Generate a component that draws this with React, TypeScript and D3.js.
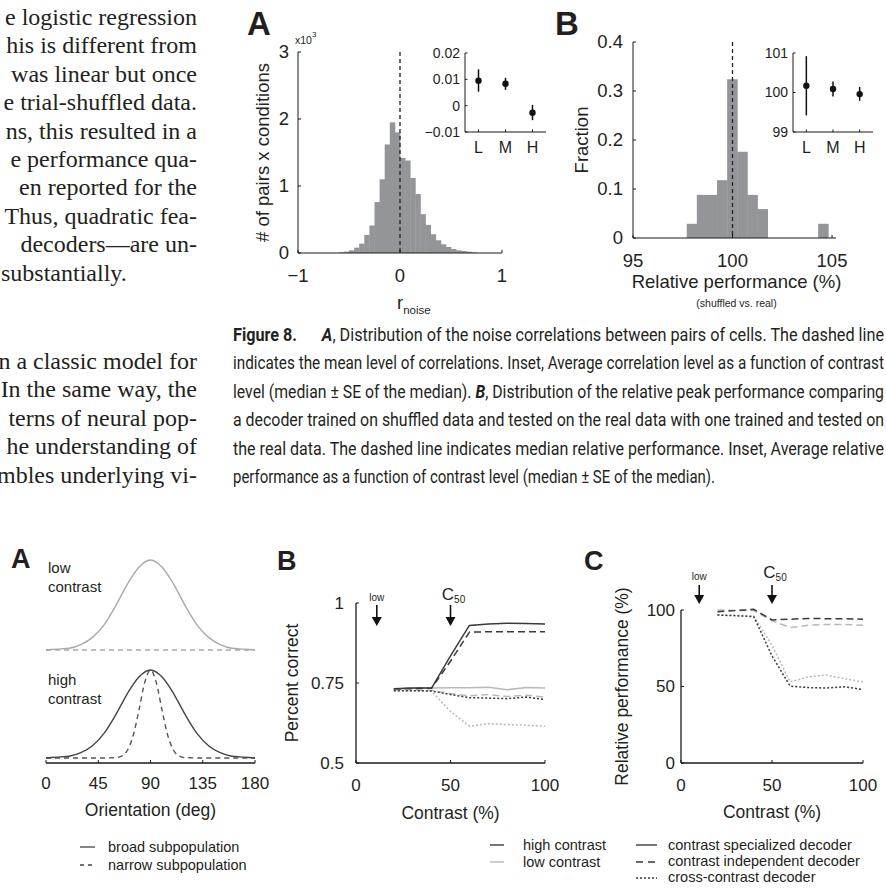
import React from 'react';
import * as d3 from 'd3';

const SANS = "'Liberation Sans', Arial, Helvetica, sans-serif";
const SERIF = "'Liberation Serif', 'Times New Roman', serif";
const NARROW = "'Liberation Sans Narrow', 'Arial Narrow', Roboto, sans-serif";
const INK = '#231f20';
const AXIS = '#1a1a1a';
const BAR = '#939598';
const DARK = '#3a3a3a';
const LIGHT = '#b9b9b9';

// ---------------- body text ----------------
const bodyTop = [
  'e logistic regression',
  'his is different from',
  'was linear but once',
  'e trial-shuffled data.',
  'ns, this resulted in a',
  'e performance qua-',
  'en reported for the',
  'Thus, quadratic fea-',
  'decoders\u2014are un-',
];
const bodyTopLast = 'substantially.';
const bodyBottom = [
  'n a classic model for',
  'In the same way, the',
  'terns of neural pop-',
  'he understanding of',
  'mbles underlying vi-',
];

// ---------------- caption ----------------
type Seg = { t: string; b?: boolean; i?: boolean };
const captionLines: Seg[][] = [
  [{ t: 'Figure 8.', b: true }, { t: '\u2003\u2002' }, { t: 'A', b: true, i: true }, { t: ', Distribution of the noise correlations between pairs of cells. The dashed line' }],
  [{ t: 'indicates the mean level of correlations. Inset, Average correlation level as a function of contrast' }],
  [{ t: 'level (median \u00B1 SE of the median). ' }, { t: 'B', b: true, i: true }, { t: ', Distribution of the relative peak performance comparing' }],
  [{ t: 'a decoder trained on shuffled data and tested on the real data with one trained and tested on' }],
  [{ t: 'the real data. The dashed line indicates median relative performance. Inset, Average relative' }],
  [{ t: 'performance as a function of contrast level (median \u00B1 SE of the median).' }],
];
const captionWidths = [651, 651, 651, 651, 651, 482];

// ---------------- Figure 8A data ----------------
const histAStart = -0.6;
const histAWidth = 0.05;
const histACounts = [10, 20, 40, 80, 140, 270, 410, 760, 1100, 1620, 1950, 1800,
  1420, 1380, 1120, 880, 580, 420, 280, 190, 130, 90, 60, 40, 30, 20, 10];
const meanCorr = 0;
const histAYTicks = [0, 1000, 2000, 3000];
const histAYLabels = ['0', '1', '2', '3'];
const histAXTicks = [-1, 0, 1];
const histAXLabels = ['\u22121', '0', '1'];

const insetCats = ['L', 'M', 'H'];
const insetAMed = [0.0095, 0.0083, -0.0027];
const insetALo = [0.0053, 0.006, -0.0055];
const insetAHi = [0.0138, 0.0106, 0.0003];
const insetAYTicks = [-0.01, 0, 0.01, 0.02];
const insetAYLabels = ['\u22120.01', '0', '0.01', '0.02'];

// ---------------- Figure 8B data ----------------
const histBStart = 97.7;
const histBWidth = 0.508;
const histBFrac = [0.029, 0.088, 0.088, 0.118, 0.324, 0.176, 0.088, 0.059, 0, 0, 0, 0, 0, 0.029];
const medianPerf = 100;
const histBYTicks = [0, 0.1, 0.2, 0.3, 0.4];
const histBYLabels = ['0', '0.1', '0.2', '0.3', '0.4'];
const histBXTicks = [95, 100, 105];

const insetBMed = [100.17, 100.09, 99.96];
const insetBLo = [99.42, 99.9, 99.79];
const insetBHi = [100.92, 100.28, 100.14];
const insetBYTicks = [99, 100, 101];

// ---------------- Figure 9A data ----------------
const orientDeg = [0, 10, 20, 30, 40, 50, 60, 70, 80, 90, 100, 110, 120, 130, 140, 150, 160, 170, 180];
const broadResp = [0, 0.01, 0.02, 0.06, 0.14, 0.28, 0.49, 0.73, 0.92, 1, 0.92, 0.73, 0.49, 0.28, 0.14, 0.06, 0.02, 0.01, 0];
const narrowDeg = [0, 45, 60, 65, 70, 75, 80, 85, 90, 95, 100, 105, 110, 115, 120, 135, 180];
const narrowHighResp = [0, 0, 0.004, 0.021, 0.085, 0.25, 0.54, 0.857, 1, 0.857, 0.54, 0.25, 0.085, 0.021, 0.004, 0, 0];
const narrowLowDeg = [0, 180];
const narrowLowResp = [0, 0];
const orientTicks = [0, 45, 90, 135, 180];

// ---------------- Figure 9B / 9C data ----------------
const contrastLevels = [20, 30, 40, 50, 60, 70, 80, 90, 100];
const bHighSpec = [0.732, 0.734, 0.734, 0.835, 0.930, 0.934, 0.937, 0.936, 0.934];
const bHighIndep = [0.732, 0.733, 0.734, 0.818, 0.909, 0.910, 0.910, 0.910, 0.910];
const bHighCross = [0.726, 0.726, 0.725, 0.714, 0.704, 0.703, 0.701, 0.706, 0.698];
const bLowSpec = [0.732, 0.733, 0.734, 0.735, 0.735, 0.737, 0.729, 0.736, 0.734];
const bLowIndep = [0.729, 0.729, 0.727, 0.717, 0.710, 0.714, 0.708, 0.712, 0.706];
const bLowCross = [0.726, 0.726, 0.724, 0.661, 0.615, 0.623, 0.620, 0.618, 0.615];
const bYTicks = [0.5, 0.75, 1];
const bYLabels = ['0.5', '0.75', '1'];
const contrastTicks = [0, 50, 100];

const cHighIndep = [98.9, 99.6, 100.4, 93.5, 94.0, 94.5, 94.3, 94.3, 94.0];
const cLowIndep = [100, 99.6, 99.6, 93.0, 88.5, 90.0, 90.6, 90.6, 90.0];
const cHighCross = [96.7, 96.3, 95.6, 70.0, 50.2, 49.3, 49.0, 49.8, 48.0];
const cLowCross = [96.7, 96.5, 96.0, 77.0, 53.0, 56.3, 57.5, 55.0, 53.0];
const cYTicks = [0, 50, 100];

const bArrowContrast = [11, 50];
const cArrowContrast = [10, 50];

// ---------------- helpers ----------------
function Arrow({ x, y0, y1 }: { x: number; y0: number; y1: number }) {
  const head = 9;
  return (
    <g>
      <line x1={x} x2={x} y1={y0} y2={y1 - head + 1} stroke="#111" strokeWidth={1.6} />
      <path d={`M${x - 5},${y1 - head} L${x + 5},${y1 - head} L${x},${y1} Z`} fill="#111" />
    </g>
  );
}

function C50({ x, y }: { x: number; y: number }) {
  return (
    <text x={x} y={y} fontSize={17} textAnchor="middle" fill={INK}>
      C<tspan fontSize={10} dy={3}>50</tspan>
    </text>
  );
}

function Inset({ xs, ys, med, lo, hi, yTicks, yLabels }: any) {
  const [x0, x1] = xs.range();
  const [yb, yt] = ys.range();
  return (
    <g>
      <line x1={x0} x2={x0} y1={yb} y2={yt} stroke={AXIS} strokeWidth={1} />
      <line x1={x0} x2={x1} y1={yb} y2={yb} stroke={AXIS} strokeWidth={1} />
      {yTicks.map((t: number, i: number) => (
        <g key={i}>
          <line x1={x0} x2={x0 + 2.5} y1={ys(t)} y2={ys(t)} stroke={AXIS} />
          <text x={x0 - 5} y={ys(t)} dy="0.35em" textAnchor="end" fontSize={14}>{yLabels[i]}</text>
        </g>
      ))}
      {insetCats.map((c, i) => (
        <g key={c}>
          <line x1={xs(i + 1)} x2={xs(i + 1)} y1={yb} y2={yb - 2.5} stroke={AXIS} />
          <text x={xs(i + 1)} y={yb + 21} textAnchor="middle" fontSize={16}>{c}</text>
          <line x1={xs(i + 1)} x2={xs(i + 1)} y1={ys(lo[i])} y2={ys(hi[i])} stroke="#111" strokeWidth={1.5} />
          <circle cx={xs(i + 1)} cy={ys(med[i])} r={3.2} fill="#111" />
        </g>
      ))}
    </g>
  );
}

// ---------------- panels ----------------
function BodyText() {
  const step = 28.4;
  return (
    <g fontFamily={SERIF} fontSize={24} fill={INK}>
      {bodyTop.map((t, i) => (
        <text key={i} x={197} y={25 + i * step} textAnchor="end">{t}</text>
      ))}
      <text x={1} y={25 + bodyTop.length * step}>{bodyTopLast}</text>
      {bodyBottom.map((t, i) => (
        <text key={'b' + i} x={197} y={369 + i * step} textAnchor="end">{t}</text>
      ))}
    </g>
  );
}

function Caption() {
  return (
    <g fontFamily={NARROW} fontSize={18} fill={INK}>
      {captionLines.map((segs, li) => (
        <text key={li} x={233} y={341 + li * 28.4} textLength={captionWidths[li]} lengthAdjust="spacingAndGlyphs" xmlSpace="preserve">
          {segs.map((s, si) => (
            <tspan key={si} fontWeight={s.b ? 'bold' : 'normal'} fontStyle={s.i ? 'italic' : 'normal'}>{s.t}</tspan>
          ))}
        </text>
      ))}
    </g>
  );
}

function Fig8A() {
  const x = d3.scaleLinear().domain([-1, 1]).range([298, 502]);
  const y = d3.scaleLinear().domain([0, 3000]).range([253, 52]);
  const xi = d3.scaleLinear().domain([0.5, 3.5]).range([465, 546]);
  const yi = d3.scaleLinear().domain([-0.01, 0.02]).range([132, 53]);
  return (
    <g fontFamily={SANS} fill={INK}>
      <text x={247} y={35} fontSize={33} fontWeight="bold">A</text>
      {histACounts.map((c, i) => {
        const b0 = histAStart + i * histAWidth;
        return <rect key={i} x={x(b0)} y={y(c)} width={x(b0 + histAWidth) - x(b0) + 0.4} height={y(0) - y(c)} fill={BAR} />;
      })}
      <line x1={x(meanCorr)} x2={x(meanCorr)} y1={y(3000)} y2={y(0)} stroke="#222" strokeWidth={1.3} strokeDasharray="4,3" />
      <line x1={x(-1)} x2={x(-1)} y1={y(0)} y2={y(3000)} stroke={AXIS} />
      <line x1={x(-1)} x2={x(1)} y1={y(0)} y2={y(0)} stroke={AXIS} />
      {histAYTicks.map((t, i) => (
        <g key={i}>
          <line x1={x(-1)} x2={x(-1) + 3} y1={y(t)} y2={y(t)} stroke={AXIS} />
          <text x={x(-1) - 9} y={y(t)} dy="0.35em" textAnchor="end" fontSize={18.5}>{histAYLabels[i]}</text>
        </g>
      ))}
      {histAXTicks.map((t, i) => (
        <g key={i}>
          <line x1={x(t)} x2={x(t)} y1={y(0)} y2={y(0) - 3} stroke={AXIS} />
          <text x={x(t)} y={y(0) + 29} textAnchor="middle" fontSize={18.5}>{histAXLabels[i]}</text>
        </g>
      ))}
      <text x={295} y={44} fontSize={10.5}>x10<tspan fontSize={8} dy={-7}>3</tspan></text>
      <text transform={`translate(${263},${(y(0) + y(3000)) / 2}) rotate(-90)`} textAnchor="middle" dy="0.35em" fontSize={18.5}># of pairs x conditions</text>
      <text x={397} y={309} fontSize={18.5}>r<tspan fontSize={11.5} dy={5}>noise</tspan></text>
      <Inset xs={xi} ys={yi} med={insetAMed} lo={insetALo} hi={insetAHi} yTicks={insetAYTicks} yLabels={insetAYLabels} />
    </g>
  );
}

function Fig8B() {
  const x = d3.scaleLinear().domain([95, 105]).range([633, 832]);
  const y = d3.scaleLinear().domain([0, 0.4]).range([238, 42]);
  const xi = d3.scaleLinear().domain([0.5, 3.5]).range([793, 873]);
  const yi = d3.scaleLinear().domain([99, 101]).range([132, 53]);
  return (
    <g fontFamily={SANS} fill={INK}>
      <text x={555} y={35} fontSize={33} fontWeight="bold">B</text>
      {histBFrac.map((f, i) => {
        const b0 = histBStart + i * histBWidth;
        return f > 0 ? <rect key={i} x={x(b0)} y={y(f)} width={x(b0 + histBWidth) - x(b0) + 0.4} height={y(0) - y(f)} fill={BAR} /> : null;
      })}
      <line x1={x(medianPerf)} x2={x(medianPerf)} y1={y(0.4)} y2={y(0)} stroke="#222" strokeWidth={1.3} strokeDasharray="4,3" />
      <line x1={x(95)} x2={x(95)} y1={y(0)} y2={y(0.4)} stroke={AXIS} />
      <line x1={x(95)} x2={x(105) + 4} y1={y(0)} y2={y(0)} stroke={AXIS} />
      {histBYTicks.map((t, i) => (
        <g key={i}>
          <line x1={x(95)} x2={x(95) + 3} y1={y(t)} y2={y(t)} stroke={AXIS} />
          <text x={x(95) - 10} y={y(t)} dy="0.35em" textAnchor="end" fontSize={18.5}>{histBYLabels[i]}</text>
        </g>
      ))}
      {histBXTicks.map((t, i) => (
        <g key={i}>
          <line x1={x(t)} x2={x(t)} y1={y(0)} y2={y(0) - 3} stroke={AXIS} />
          <text x={x(t)} y={y(0) + 29} textAnchor="middle" fontSize={18.5}>{t}</text>
        </g>
      ))}
      <text transform={`translate(${582},${(y(0) + y(0.4)) / 2}) rotate(-90)`} textAnchor="middle" dy="0.35em" fontSize={18.5}>Fraction</text>
      <text x={(x(95) + x(105)) / 2 + 4} y={288} textAnchor="middle" fontSize={18.5}>Relative performance (%)</text>
      <text x={(x(95) + x(105)) / 2 + 4} y={307} textAnchor="middle" fontSize={10.5}>(shuffled vs. real)</text>
      <Inset xs={xi} ys={yi} med={insetBMed} lo={insetBLo} hi={insetBHi} yTicks={insetBYTicks} yLabels={insetBYTicks.map(String)} />
    </g>
  );
}

function Fig9A() {
  const x = d3.scaleLinear().domain([0, 180]).range([46, 255]);
  const yLow = d3.scaleLinear().domain([0, 1]).range([650, 560]);
  const yHigh = d3.scaleLinear().domain([0, 1]).range([758, 670]);
  const mk = (ys: any) => d3.line<number[]>().x(d => x(d[0])).y(d => ys(d[1])).curve(d3.curveMonotoneX);
  const lowG = mk(yLow), highG = mk(yHigh);
  const broad = orientDeg.map((d, i) => [d, broadResp[i]]);
  const narrowH = narrowDeg.map((d, i) => [d, narrowHighResp[i]]);
  const narrowL = narrowLowDeg.map((d, i) => [d, narrowLowResp[i]]);
  const axisY = 763;
  return (
    <g fontFamily={SANS} fill={INK}>
      <text x={11} y={568} fontSize={27} fontWeight="bold">A</text>
      <text x={48} y={573} fontSize={15}>low</text>
      <text x={48} y={592} fontSize={15}>contrast</text>
      <text x={48} y={685} fontSize={15}>high</text>
      <text x={48} y={704} fontSize={15}>contrast</text>
      <path d={lowG(narrowL) || ''} fill="none" stroke="#a9a9a9" strokeWidth={1.4} strokeDasharray="5,4" />
      <path d={lowG(broad) || ''} fill="none" stroke="#a9a9a9" strokeWidth={1.4} />
      <path d={highG(narrowH) || ''} fill="none" stroke="#555" strokeWidth={1.4} strokeDasharray="5,4" />
      <path d={highG(broad) || ''} fill="none" stroke="#444" strokeWidth={1.4} />
      <line x1={x(0)} x2={x(180)} y1={axisY} y2={axisY} stroke={AXIS} strokeWidth={1.6} />
      {orientTicks.map(t => (
        <g key={t}>
          <line x1={x(t)} x2={x(t)} y1={axisY} y2={axisY - 3} stroke={AXIS} />
          <text x={x(t)} y={789} textAnchor="middle" fontSize={17}>{t}</text>
        </g>
      ))}
      <text x={(x(0) + x(180)) / 2} y={816} textAnchor="middle" fontSize={17.5}>Orientation (deg)</text>
      <line x1={80} x2={95} y1={847} y2={847} stroke="#444" strokeWidth={1.3} />
      <text x={108} y={852} fontSize={14.5}>broad subpopulation</text>
      <line x1={80} x2={95} y1={865} y2={865} stroke="#444" strokeWidth={1.3} strokeDasharray="4,4" />
      <text x={108} y={870} fontSize={14.5}>narrow subpopulation</text>
    </g>
  );
}

function Fig9B() {
  const x = d3.scaleLinear().domain([0, 100]).range([356, 545]);
  const y = d3.scaleLinear().domain([0.5, 1]).range([763, 603]);
  const line = d3.line<number>().x((_, i) => x(contrastLevels[i])).y(d => y(d));
  const series = [
    { v: bLowCross, c: LIGHT, dash: '2,2' },
    { v: bLowIndep, c: LIGHT, dash: '7,4' },
    { v: bLowSpec, c: LIGHT, dash: '' },
    { v: bHighCross, c: DARK, dash: '2,2' },
    { v: bHighIndep, c: DARK, dash: '7,4' },
    { v: bHighSpec, c: DARK, dash: '' },
  ];
  return (
    <g fontFamily={SANS} fill={INK}>
      <text x={277} y={570} fontSize={27} fontWeight="bold">B</text>
      {series.map((s, i) => (
        <path key={i} d={line(s.v) || ''} fill="none" stroke={s.c} strokeWidth={1.5} strokeDasharray={s.dash || undefined} />
      ))}
      <line x1={x(0)} x2={x(0)} y1={y(0.5)} y2={y(1)} stroke={AXIS} strokeWidth={1.3} />
      <line x1={x(0)} x2={x(100)} y1={y(0.5)} y2={y(0.5)} stroke={AXIS} strokeWidth={1.3} />
      {bYTicks.map((t, i) => (
        <g key={i}>
          <line x1={x(0)} x2={x(0) + 3} y1={y(t)} y2={y(t)} stroke={AXIS} />
          <text x={x(0) - 12} y={y(t)} dy="0.35em" textAnchor="end" fontSize={17}>{bYLabels[i]}</text>
        </g>
      ))}
      {contrastTicks.map(t => (
        <g key={t}>
          <line x1={x(t)} x2={x(t)} y1={y(0.5)} y2={y(0.5) - 3} stroke={AXIS} />
          <text x={x(t)} y={791} textAnchor="middle" fontSize={17}>{t}</text>
        </g>
      ))}
      <text transform={`translate(${292},${(y(0.5) + y(1)) / 2}) rotate(-90)`} textAnchor="middle" dy="0.35em" fontSize={17.5}>Percent correct</text>
      <text x={(x(0) + x(100)) / 2} y={819} textAnchor="middle" fontSize={17.5}>Contrast (%)</text>
      <text x={x(bArrowContrast[0])} y={601} textAnchor="middle" fontSize={10}>low</text>
      <Arrow x={x(bArrowContrast[0])} y0={605} y1={626} />
      <C50 x={x(bArrowContrast[1]) + 3} y={600} />
      <Arrow x={x(bArrowContrast[1])} y0={605} y1={626} />
      <line x1={490} x2={504} y1={845} y2={845} stroke={DARK} strokeWidth={1.4} />
      <text x={523} y={850} fontSize={14.5}>high contrast</text>
      <line x1={490} x2={504} y1={862} y2={862} stroke={LIGHT} strokeWidth={1.4} />
      <text x={523} y={867} fontSize={14.5}>low contrast</text>
    </g>
  );
}

function Fig9C() {
  const x = d3.scaleLinear().domain([0, 100]).range([681, 863]);
  const y = d3.scaleLinear().domain([0, 100]).range([763, 610]);
  const line = d3.line<number>().x((_, i) => x(contrastLevels[i])).y(d => y(d));
  const series = [
    { v: cLowCross, c: LIGHT, dash: '2,2' },
    { v: cLowIndep, c: LIGHT, dash: '7,4' },
    { v: cHighCross, c: DARK, dash: '2,2' },
    { v: cHighIndep, c: DARK, dash: '7,4' },
  ];
  return (
    <g fontFamily={SANS} fill={INK}>
      <text x={584} y={570} fontSize={27} fontWeight="bold">C</text>
      {series.map((s, i) => (
        <path key={i} d={line(s.v) || ''} fill="none" stroke={s.c} strokeWidth={1.5} strokeDasharray={s.dash} />
      ))}
      <line x1={x(0)} x2={x(0)} y1={y(0)} y2={y(100)} stroke={AXIS} strokeWidth={1.3} />
      <line x1={x(0)} x2={x(100)} y1={y(0)} y2={y(0)} stroke={AXIS} strokeWidth={1.3} />
      {cYTicks.map(t => (
        <g key={t}>
          <line x1={x(0)} x2={x(0) + 3} y1={y(t)} y2={y(t)} stroke={AXIS} />
          <text x={x(0) - 6} y={y(t)} dy="0.35em" textAnchor="end" fontSize={17}>{t}</text>
        </g>
      ))}
      {contrastTicks.map(t => (
        <g key={t}>
          <line x1={x(t)} x2={x(t)} y1={y(0)} y2={y(0) - 3} stroke={AXIS} />
          <text x={x(t)} y={791} textAnchor="middle" fontSize={17}>{t}</text>
        </g>
      ))}
      <text transform={`translate(${622},${(y(0) + y(100)) / 2}) rotate(-90)`} textAnchor="middle" dy="0.35em" fontSize={17.5}>Relative performance (%)</text>
      <text x={(x(0) + x(100)) / 2} y={818} textAnchor="middle" fontSize={17.5}>Contrast (%)</text>
      <text x={x(cArrowContrast[0])} y={580} textAnchor="middle" fontSize={10}>low</text>
      <Arrow x={x(cArrowContrast[0])} y0={585} y1={604} />
      <C50 x={x(cArrowContrast[1]) + 3} y={578} />
      <Arrow x={x(cArrowContrast[1])} y0={585} y1={604} />
      <line x1={636} x2={657} y1={845} y2={845} stroke={DARK} strokeWidth={1.4} />
      <text x={668} y={850} fontSize={14.5}>contrast specialized decoder</text>
      <line x1={636} x2={657} y1={862} y2={862} stroke={DARK} strokeWidth={1.4} strokeDasharray="7,5" />
      <text x={668} y={866} fontSize={14.5}>contrast independent decoder</text>
      <line x1={636} x2={657} y1={878} y2={878} stroke={DARK} strokeWidth={1.3} strokeDasharray="2,2" />
      <text x={668} y={882} fontSize={14.5}>cross-contrast decoder</text>
    </g>
  );
}

export default function App() {
  return (
    <div style={{ position: 'absolute', left: 0, top: 0 }}>
      <svg width={886} height={888} viewBox="0 0 886 888" style={{ display: 'block', background: '#fff' }}>
        <BodyText />
        <Fig8A />
        <Fig8B />
        <Caption />
        <Fig9A />
        <Fig9B />
        <Fig9C />
      </svg>
    </div>
  );
}
